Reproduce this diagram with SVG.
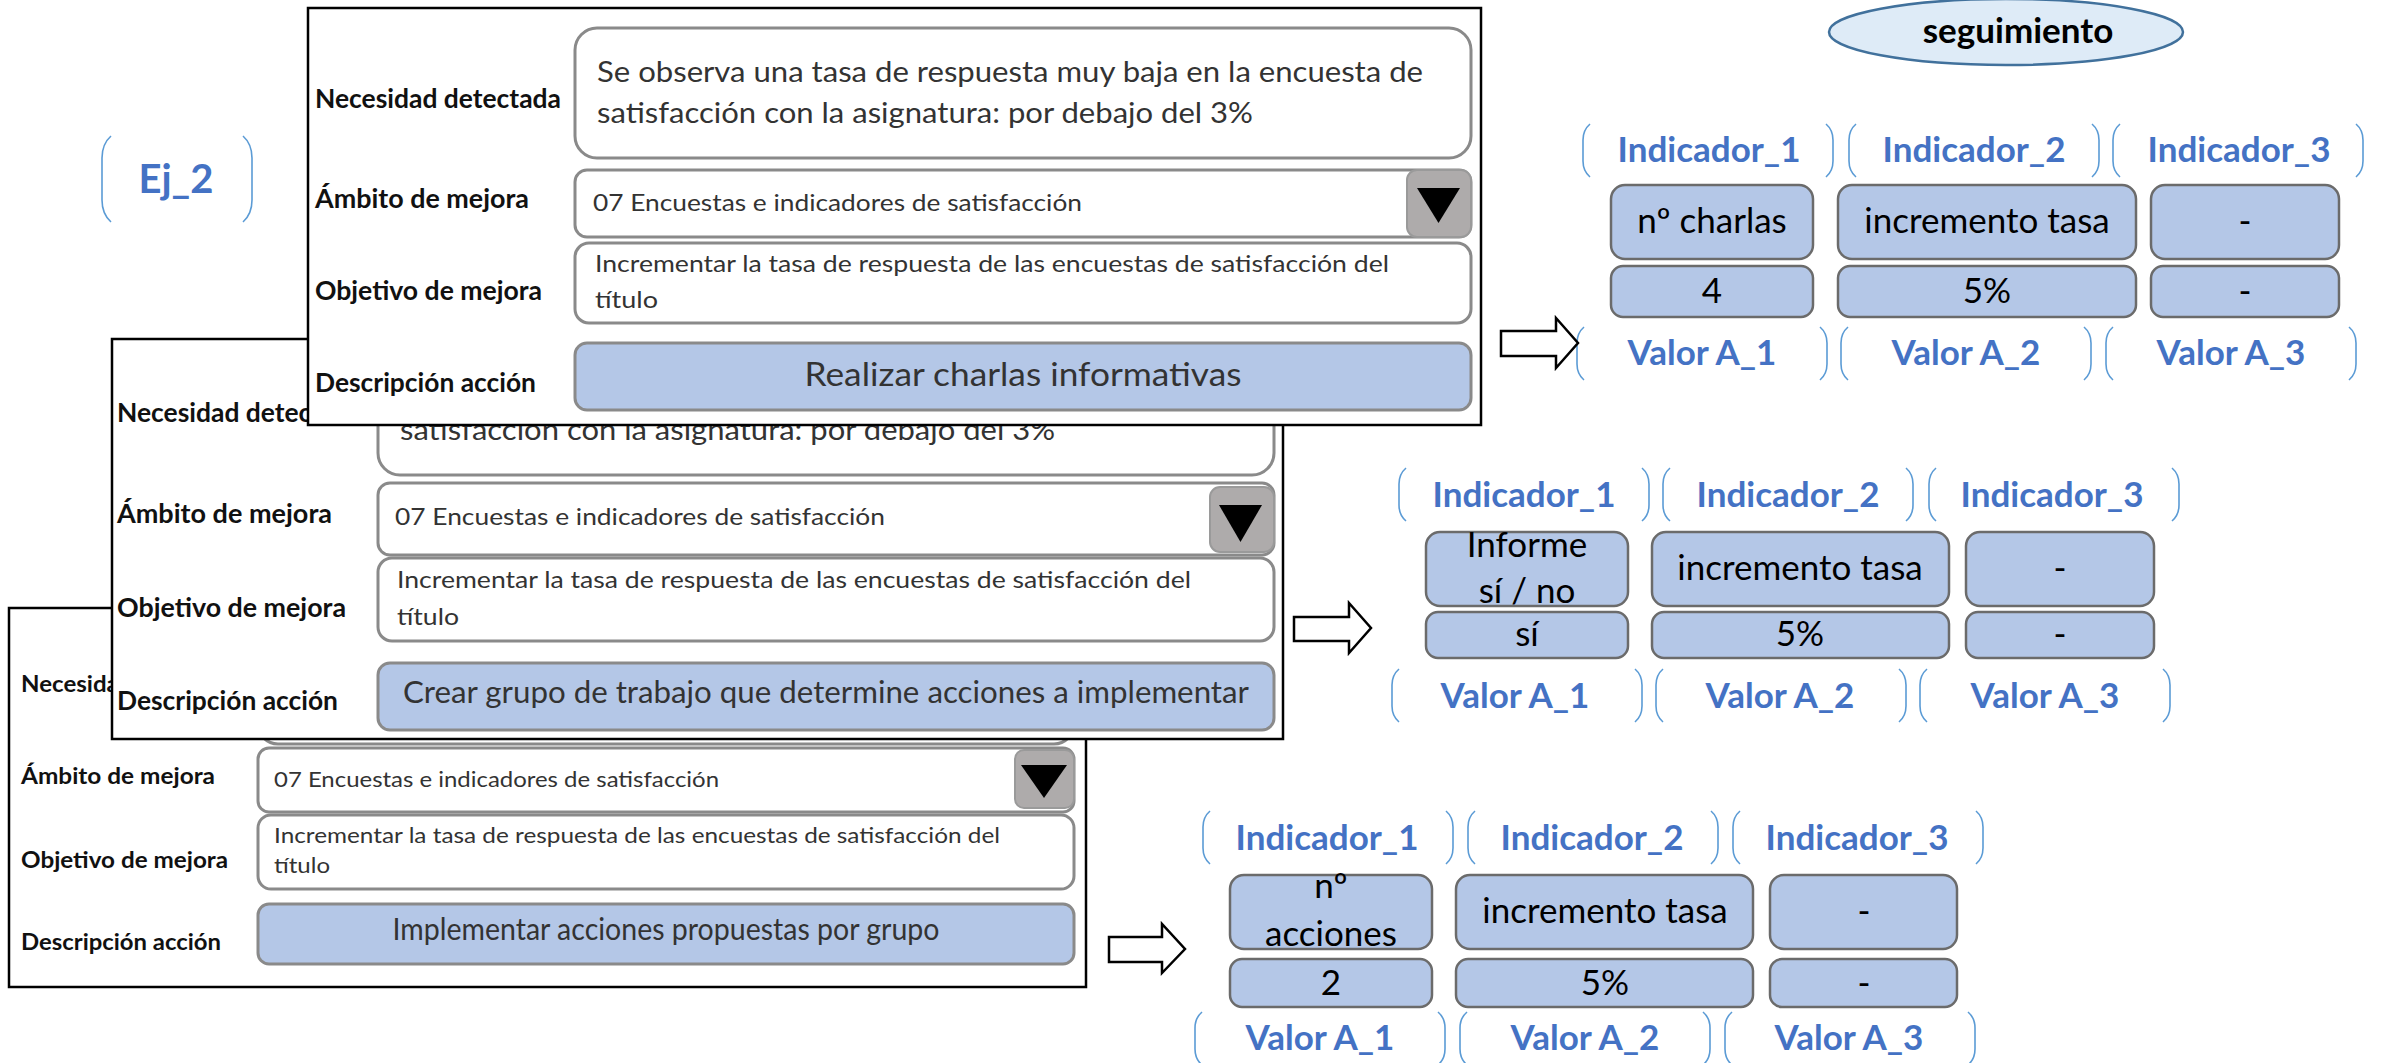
<svg xmlns="http://www.w3.org/2000/svg" xmlns:xlink="http://www.w3.org/1999/xlink" width="2387" height="1063" viewBox="0 0 2387 1063">
<style>
text{font-family:"Lato","Liberation Sans",sans-serif;}
.frame{fill:#fff;stroke:#000;stroke-width:2.5;}
.box{fill:#fff;stroke:#8a8a8a;stroke-width:3;}
.act{fill:#B4C7E7;stroke:#8a8a8a;stroke-width:3;}
.btn{fill:#AEABAB;stroke:#9a9a9a;stroke-width:2;}
.lbl{font-weight:bold;fill:#111;}
.txt{fill:#333;}
.cell{fill:#B4C7E7;stroke:#6b6b6b;stroke-width:2.5;}
.ct{font-size:35px;fill:#000;text-anchor:middle;}
.bt{font-size:35px;font-weight:bold;fill:#4472C4;text-anchor:middle;}
.arr{fill:#fff;stroke:#000;stroke-width:2.5;}
</style>
<defs>
<path id="br" d="M7,0 Q0,6 0,16 L0,37 Q0,47 7,53 M243,0 Q250,6 250,16 L250,37 Q250,47 243,53" fill="none" stroke="#5B9BD5" stroke-width="1.6"/>
</defs>
<rect width="2387" height="1063" fill="#fff"/>

<g id="ej2">
<path d="M111,136 Q102,144 102,158 L102,200 Q102,214 111,222 M243,136 Q252,144 252,158 L252,200 Q252,214 243,222" fill="none" stroke="#5B9BD5" stroke-width="1.6"/>
<text x="176" y="193" font-size="40" font-weight="bold" fill="#4472C4" text-anchor="middle">Ej_2</text>
</g>

<g id="form3">
<rect class="frame" x="9" y="608" width="1077" height="379"/>
<text class="lbl" x="21" y="692" font-size="23.5" textLength="224" lengthAdjust="spacingAndGlyphs">Necesidad detectada</text>
<rect class="box" x="258" y="628" width="816" height="116" rx="20"/>
<text class="lbl" x="21" y="784" font-size="23.5" textLength="194" lengthAdjust="spacingAndGlyphs">Ámbito de mejora</text>
<rect class="box" x="258" y="748" width="816" height="64" rx="11"/>
<rect class="btn" x="1015" y="750" width="59" height="58" rx="9"/>
<polygon points="1021,765 1067,765 1044,798" fill="#000"/>
<text class="txt" x="274" y="787" font-size="21" textLength="445" lengthAdjust="spacingAndGlyphs">07 Encuestas e indicadores de satisfacción</text>
<text class="lbl" x="21" y="868" font-size="23.5" textLength="207" lengthAdjust="spacingAndGlyphs">Objetivo de mejora</text>
<rect class="box" x="258" y="815" width="816" height="74" rx="13"/>
<text class="txt" x="274" y="843" font-size="21" textLength="726" lengthAdjust="spacingAndGlyphs">Incrementar la tasa de respuesta de las encuestas de satisfacción del</text>
<text class="txt" x="274" y="873" font-size="21" textLength="56" lengthAdjust="spacingAndGlyphs">título</text>
<text class="lbl" x="21" y="950" font-size="23.5" textLength="200" lengthAdjust="spacingAndGlyphs">Descripción acción</text>
<rect class="act" x="258" y="904" width="816" height="60" rx="11"/>
<text class="txt" x="666" y="940" font-size="30" text-anchor="middle" textLength="547" lengthAdjust="spacingAndGlyphs">Implementar acciones propuestas por grupo</text>
</g>

<g id="form2">
<rect class="frame" x="112" y="339" width="1171" height="400"/>
<text class="lbl" x="117" y="422" font-size="26" textLength="246" lengthAdjust="spacingAndGlyphs">Necesidad detectada</text>
<rect class="box" x="378" y="359" width="896" height="116" rx="22"/>
<text class="txt" x="400" y="440" font-size="29" textLength="655" lengthAdjust="spacingAndGlyphs">satisfacción con la asignatura: por debajo del 3%</text>
<text class="lbl" x="117" y="523" font-size="26" textLength="215" lengthAdjust="spacingAndGlyphs">Ámbito de mejora</text>
<rect class="box" x="378" y="483" width="896" height="72" rx="12"/>
<rect class="btn" x="1210" y="487" width="64" height="65" rx="10"/>
<polygon points="1219,505 1262,505 1240.5,542" fill="#000"/>
<text class="txt" x="395" y="525" font-size="23" textLength="490" lengthAdjust="spacingAndGlyphs">07 Encuestas e indicadores de satisfacción</text>
<text class="lbl" x="117" y="617" font-size="26" textLength="229" lengthAdjust="spacingAndGlyphs">Objetivo de mejora</text>
<rect class="box" x="378" y="558" width="896" height="83" rx="14"/>
<text class="txt" x="397" y="588" font-size="23" textLength="794" lengthAdjust="spacingAndGlyphs">Incrementar la tasa de respuesta de las encuestas de satisfacción del</text>
<text class="txt" x="397" y="625" font-size="23" textLength="62" lengthAdjust="spacingAndGlyphs">título</text>
<text class="lbl" x="117" y="710" font-size="26" textLength="221" lengthAdjust="spacingAndGlyphs">Descripción acción</text>
<rect class="act" x="378" y="663" width="896" height="67" rx="12"/>
<text class="txt" x="826" y="703" font-size="31" text-anchor="middle" textLength="846" lengthAdjust="spacingAndGlyphs">Crear grupo de trabajo que determine acciones a implementar</text>
</g>

<g id="form1">
<rect class="frame" x="308" y="8" width="1173" height="417"/>
<text class="lbl" x="315" y="108" font-size="26" textLength="246" lengthAdjust="spacingAndGlyphs">Necesidad detectada</text>
<rect class="box" x="575" y="28" width="896" height="130" rx="22"/>
<text class="txt" x="597" y="82" font-size="29" textLength="826" lengthAdjust="spacingAndGlyphs">Se observa una tasa de respuesta muy baja en la encuesta de</text>
<text class="txt" x="597" y="123" font-size="29" textLength="656" lengthAdjust="spacingAndGlyphs">satisfacción con la asignatura: por debajo del 3%</text>
<text class="lbl" x="315" y="208" font-size="26" textLength="214" lengthAdjust="spacingAndGlyphs">Ámbito de mejora</text>
<rect class="box" x="575" y="170" width="896" height="67" rx="12"/>
<rect class="btn" x="1407" y="170" width="64" height="67" rx="10"/>
<polygon points="1417,188 1460,188 1438.5,223" fill="#000"/>
<text class="txt" x="593" y="211" font-size="23" textLength="489" lengthAdjust="spacingAndGlyphs">07 Encuestas e indicadores de satisfacción</text>
<text class="lbl" x="315" y="300" font-size="26" textLength="227" lengthAdjust="spacingAndGlyphs">Objetivo de mejora</text>
<rect class="box" x="575" y="243" width="896" height="80" rx="14"/>
<text class="txt" x="595" y="272" font-size="23" textLength="794" lengthAdjust="spacingAndGlyphs">Incrementar la tasa de respuesta de las encuestas de satisfacción del</text>
<text class="txt" x="595" y="308" font-size="23" textLength="63" lengthAdjust="spacingAndGlyphs">título</text>
<text class="lbl" x="315" y="392" font-size="26" textLength="221" lengthAdjust="spacingAndGlyphs">Descripción acción</text>
<rect class="act" x="575" y="343" width="896" height="67" rx="12"/>
<text class="txt" x="1023" y="386" font-size="33" text-anchor="middle" textLength="437" lengthAdjust="spacingAndGlyphs">Realizar charlas informativas</text>
</g>

<g id="seguimiento">
<ellipse cx="2006" cy="32" rx="177" ry="33" fill="#DEEBF7" stroke="#41719C" stroke-width="2.5"/>
<text x="2018" y="43" font-size="35" font-weight="bold" fill="#000" text-anchor="middle">seguimiento</text>
</g>

<g id="ind1">
<use xlink:href="#br" x="1583" y="124"/>
<use xlink:href="#br" x="1849" y="124"/>
<use xlink:href="#br" x="2113" y="124"/>
<text class="bt" x="1709" y="162">Indicador_1</text>
<text class="bt" x="1974" y="162">Indicador_2</text>
<text class="bt" x="2239" y="162">Indicador_3</text>
<rect class="cell" x="1611" y="185" width="202" height="74" rx="14"/>
<rect class="cell" x="1838" y="185" width="298" height="74" rx="14"/>
<rect class="cell" x="2151" y="185" width="188" height="74" rx="14"/>
<text class="ct" x="1712" y="233">nº charlas</text>
<text class="ct" x="1987" y="233">incremento tasa</text>
<text class="ct" x="2245" y="233">-</text>
<rect class="cell" x="1611" y="266" width="202" height="51" rx="12"/>
<rect class="cell" x="1838" y="266" width="298" height="51" rx="12"/>
<rect class="cell" x="2151" y="266" width="188" height="51" rx="12"/>
<text class="ct" x="1712" y="303">4</text>
<text class="ct" x="1987" y="303">5%</text>
<text class="ct" x="2245" y="303">-</text>
<use xlink:href="#br" x="1577" y="327"/>
<use xlink:href="#br" x="1841" y="327"/>
<use xlink:href="#br" x="2106" y="327"/>
<text class="bt" x="1702" y="365">Valor A_1</text>
<text class="bt" x="1966" y="365">Valor A_2</text>
<text class="bt" x="2231" y="365">Valor A_3</text>
</g>

<g id="ind2">
<use xlink:href="#br" x="1399" y="468"/>
<use xlink:href="#br" x="1663" y="468"/>
<use xlink:href="#br" x="1929" y="468"/>
<text class="bt" x="1524" y="507">Indicador_1</text>
<text class="bt" x="1788" y="507">Indicador_2</text>
<text class="bt" x="2052" y="507">Indicador_3</text>
<rect class="cell" x="1426" y="532" width="202" height="74" rx="14"/>
<rect class="cell" x="1652" y="532" width="297" height="74" rx="14"/>
<rect class="cell" x="1966" y="532" width="188" height="74" rx="14"/>
<text class="ct" x="1527" y="557">Informe</text>
<text class="ct" x="1527" y="603">sí / no</text>
<text class="ct" x="1800" y="580">incremento tasa</text>
<text class="ct" x="2060" y="580">-</text>
<rect class="cell" x="1426" y="612" width="202" height="46" rx="12"/>
<rect class="cell" x="1652" y="612" width="297" height="46" rx="12"/>
<rect class="cell" x="1966" y="612" width="188" height="46" rx="12"/>
<text class="ct" x="1527" y="646">sí</text>
<text class="ct" x="1800" y="646">5%</text>
<text class="ct" x="2060" y="646">-</text>
<use xlink:href="#br" x="1392" y="669"/>
<use xlink:href="#br" x="1656" y="669"/>
<use xlink:href="#br" x="1920" y="669"/>
<text class="bt" x="1515" y="708">Valor A_1</text>
<text class="bt" x="1780" y="708">Valor A_2</text>
<text class="bt" x="2045" y="708">Valor A_3</text>
</g>

<g id="ind3">
<use xlink:href="#br" x="1203" y="811"/>
<use xlink:href="#br" x="1468" y="811"/>
<use xlink:href="#br" x="1733" y="811"/>
<text class="bt" x="1327" y="850">Indicador_1</text>
<text class="bt" x="1592" y="850">Indicador_2</text>
<text class="bt" x="1857" y="850">Indicador_3</text>
<rect class="cell" x="1230" y="875" width="202" height="74" rx="14"/>
<rect class="cell" x="1456" y="875" width="297" height="74" rx="14"/>
<rect class="cell" x="1770" y="875" width="187" height="74" rx="14"/>
<text class="ct" x="1331" y="898">nº</text>
<text class="ct" x="1331" y="946">acciones</text>
<text class="ct" x="1605" y="923">incremento tasa</text>
<text class="ct" x="1864" y="923">-</text>
<rect class="cell" x="1230" y="959" width="202" height="48" rx="12"/>
<rect class="cell" x="1456" y="959" width="297" height="48" rx="12"/>
<rect class="cell" x="1770" y="959" width="187" height="48" rx="12"/>
<text class="ct" x="1331" y="995">2</text>
<text class="ct" x="1605" y="995">5%</text>
<text class="ct" x="1864" y="995">-</text>
<use xlink:href="#br" x="1195" y="1012"/>
<use xlink:href="#br" x="1460" y="1012"/>
<use xlink:href="#br" x="1725" y="1012"/>
<text class="bt" x="1320" y="1050">Valor A_1</text>
<text class="bt" x="1585" y="1050">Valor A_2</text>
<text class="bt" x="1849" y="1050">Valor A_3</text>
</g>

<g id="connectors">
<polygon class="arr" points="1501,331 1556,331 1556,318 1578,343 1556,368 1556,356 1501,356"/>
<polygon class="arr" points="1294,617 1349,617 1349,603 1371,628 1349,653 1349,641 1294,641"/>
<polygon class="arr" points="1109,937 1162,937 1162,924 1185,949 1162,973 1162,962 1109,962"/>
</g>
</svg>
